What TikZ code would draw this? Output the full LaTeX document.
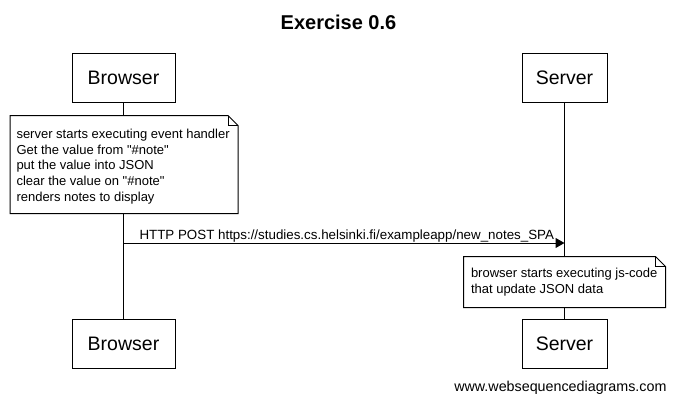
\documentclass[tikz,border=0pt]{standalone}
\usepackage{fontspec}
\setmainfont{Liberation Sans}[Ligatures=TeXOff]
\usetikzlibrary{arrows.meta}
\newcommand{\dq}{\symbol{34}}
\begin{document}
\begin{tikzpicture}[x=1pt,y=-1pt,line width=1pt,
  actor/.style={draw=black,fill=white,line width=1pt,inner sep=0pt,font=\fontsize{19.5}{23}\selectfont},
  notearea/.style={fill=white,draw=none,inner sep=0pt},
  notetext/.style={inner sep=0pt,align=left,anchor=west,font=\fontsize{13}{15.6}\selectfont},
  msg/.style={-{Triangle[length=9pt,width=10pt]},line width=1pt},
  lifeline/.style={line width=1pt}]
\useasboundingbox (0,0) rectangle (675,402);
% title
\node[font=\fontsize{20}{24}\bfseries] (title) at (338.5,22) {Exercise 0.6};
% participants
\node[actor,minimum width=103pt,minimum height=49pt] (bTop) at (123.5,77.5) {Browser};
\node[actor,minimum width=85pt,minimum height=49pt] (sTop) at (564.5,77.5) {Server};
\node[actor,minimum width=103pt,minimum height=49pt] (bBot) at (123.5,343.5) {Browser};
\node[actor,minimum width=85pt,minimum height=49pt] (sBot) at (564.5,343.5) {Server};
% lifelines
\draw[lifeline] (bTop.south) -- (bBot.north);
\draw[lifeline] (sTop.south) -- (sBot.north);
% note 1
\node[notearea,minimum width=227pt,minimum height=97pt] (n1) at (124,164.5) {};
\draw (n1.north west) -- ([xshift=-10pt]n1.north east) -- ([yshift=-10pt]n1.north east) -- (n1.south east) -- (n1.south west) -- cycle;
\draw ([xshift=-10pt]n1.north east) |- ([yshift=-10pt]n1.north east);
\node[notetext] (n1t) at ([xshift=6pt,yshift=-2pt]n1.west) {server starts executing event handler\\Get the value from \dq\#note\dq\\put the value into JSON\\clear the value on \dq\#note\dq\\renders notes to display};
% message
\coordinate (m1a) at (bTop.south |- 0,243);
\coordinate (m1b) at (sTop.south |- 0,243);
\draw[msg] (m1a) -- (m1b);
\node[inner sep=0pt,anchor=base west,font=\fontsize{13.35}{16}\selectfont] (m1l) at (139,239) {HTTP POST https://studies.cs.helsinki.fi/exampleapp/new\_notes\_SPA};
% note 2
\node[notearea,minimum width=201pt,minimum height=50pt] (n2) at (564.5,282) {};
\draw (n2.north west) -- ([xshift=-10pt]n2.north east) -- ([yshift=-10pt]n2.north east) -- (n2.south east) -- (n2.south west) -- cycle;
\draw ([xshift=-10pt]n2.north east) |- ([yshift=-10pt]n2.north east);
\node[notetext] (n2t) at ([xshift=7pt,yshift=0pt]n2.west) {browser starts executing js-code\\that update JSON data};
% footer
\node[inner sep=0pt,anchor=base east,font=\fontsize{14.3}{17}\selectfont] (foot) at (667,391) {www.websequencediagrams.com};
\end{tikzpicture}
\end{document}
